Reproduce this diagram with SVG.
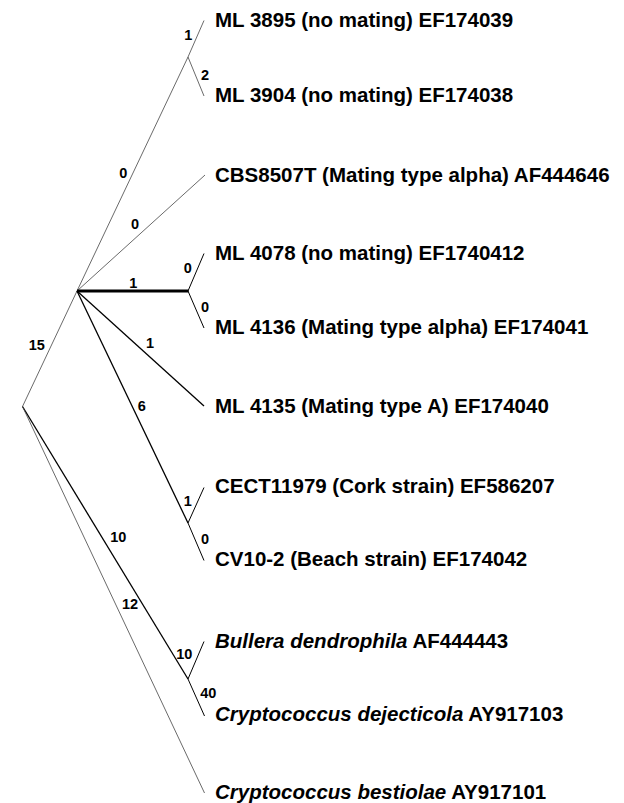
<svg xmlns="http://www.w3.org/2000/svg" width="624" height="803" viewBox="0 0 624 803">
<style>
.thin{stroke:#444;stroke-width:0.8;fill:none}
.med{stroke:#000;stroke-width:1.3;fill:none}
.thick{stroke:#000;stroke-width:2.8;fill:none}
.tip{stroke:#000;stroke-width:1;fill:none}
.lbl{font-family:"Liberation Sans",Arial,sans-serif;font-weight:bold;font-size:20.5px;fill:#000}
.it{font-style:italic}
.num{font-family:"Liberation Sans",Arial,sans-serif;font-weight:bold;font-size:14.5px;fill:#000;text-anchor:middle}
</style>
<rect width="624" height="803" fill="#fff"/>
<g id="connectors">
<line class="thin" x1="22.5" y1="406.5" x2="77" y2="291"/>
<line class="thin" x1="77" y1="291" x2="188" y2="57"/>
<line class="thin" x1="188" y1="57" x2="204" y2="20.5"/>
<line class="thin" x1="188" y1="57" x2="204" y2="96"/>
<line class="thin" x1="77" y1="291" x2="205" y2="175"/>
<line class="thick" x1="77" y1="291" x2="188.5" y2="291"/>
<line class="tip" x1="188" y1="291" x2="204" y2="253.5"/>
<line class="tip" x1="188" y1="291" x2="204" y2="328"/>
<line class="med" x1="77" y1="291" x2="204" y2="406"/>
<line class="med" x1="77" y1="291" x2="188" y2="523"/>
<line class="tip" x1="188" y1="523" x2="204" y2="487.5"/>
<line class="tip" x1="188" y1="523" x2="204" y2="560.5"/>
<line class="med" x1="22.5" y1="406.5" x2="188" y2="679"/>
<line class="tip" x1="188" y1="679" x2="204" y2="641.5"/>
<line class="tip" x1="188" y1="679" x2="204.5" y2="716"/>
<line class="thin" x1="22.5" y1="406.5" x2="204.5" y2="793"/>
</g>
<g id="branch-labels">
<text class="num" x="188.3" y="39.5">1</text>
<text class="num" x="205" y="80">2</text>
<text class="num" x="123.3" y="178">0</text>
<text class="num" x="135" y="229.3">0</text>
<text class="num" x="133.3" y="288.3">1</text>
<text class="num" x="187.7" y="273.3">0</text>
<text class="num" x="205" y="312">0</text>
<text class="num" x="36.7" y="350">15</text>
<text class="num" x="150" y="348.3">1</text>
<text class="num" x="141.7" y="411">6</text>
<text class="num" x="187.7" y="506">1</text>
<text class="num" x="205" y="544.3">0</text>
<text class="num" x="118.3" y="542">10</text>
<text class="num" x="130" y="609.3">12</text>
<text class="num" x="184.3" y="659">10</text>
<text class="num" x="208.3" y="697.7">40</text>
</g>
<g id="n-ml3895"><text class="lbl" x="215" y="27">ML 3895 (no mating) EF174039</text></g>
<g id="n-ml3904"><text class="lbl" x="215" y="101.7">ML 3904 (no mating) EF174038</text></g>
<g id="n-cbs8507t"><text class="lbl" x="215" y="181.7">CBS8507T (Mating type alpha) AF444646</text></g>
<g id="n-ml4078"><text class="lbl" x="215" y="260">ML 4078 (no mating) EF1740412</text></g>
<g id="n-ml4136"><text class="lbl" x="215" y="334.3">ML 4136 (Mating type alpha) EF174041</text></g>
<g id="n-ml4135"><text class="lbl" x="215" y="413.3">ML 4135 (Mating type A) EF174040</text></g>
<g id="n-cect11979"><text class="lbl" x="215" y="493.3">CECT11979 (Cork strain) EF586207</text></g>
<g id="n-cv10-2"><text class="lbl" x="215" y="566">CV10-2 (Beach strain) EF174042</text></g>
<g id="n-bullera"><text class="lbl" x="215" y="648.3"><tspan class="it">Bullera dendrophila</tspan> AF444443</text></g>
<g id="n-dejecticola"><text class="lbl" x="215" y="721"><tspan class="it">Cryptococcus dejecticola</tspan> AY917103</text></g>
<g id="n-bestiolae"><text class="lbl" x="215" y="799"><tspan class="it">Cryptococcus bestiolae</tspan> AY917101</text></g>
</svg>
